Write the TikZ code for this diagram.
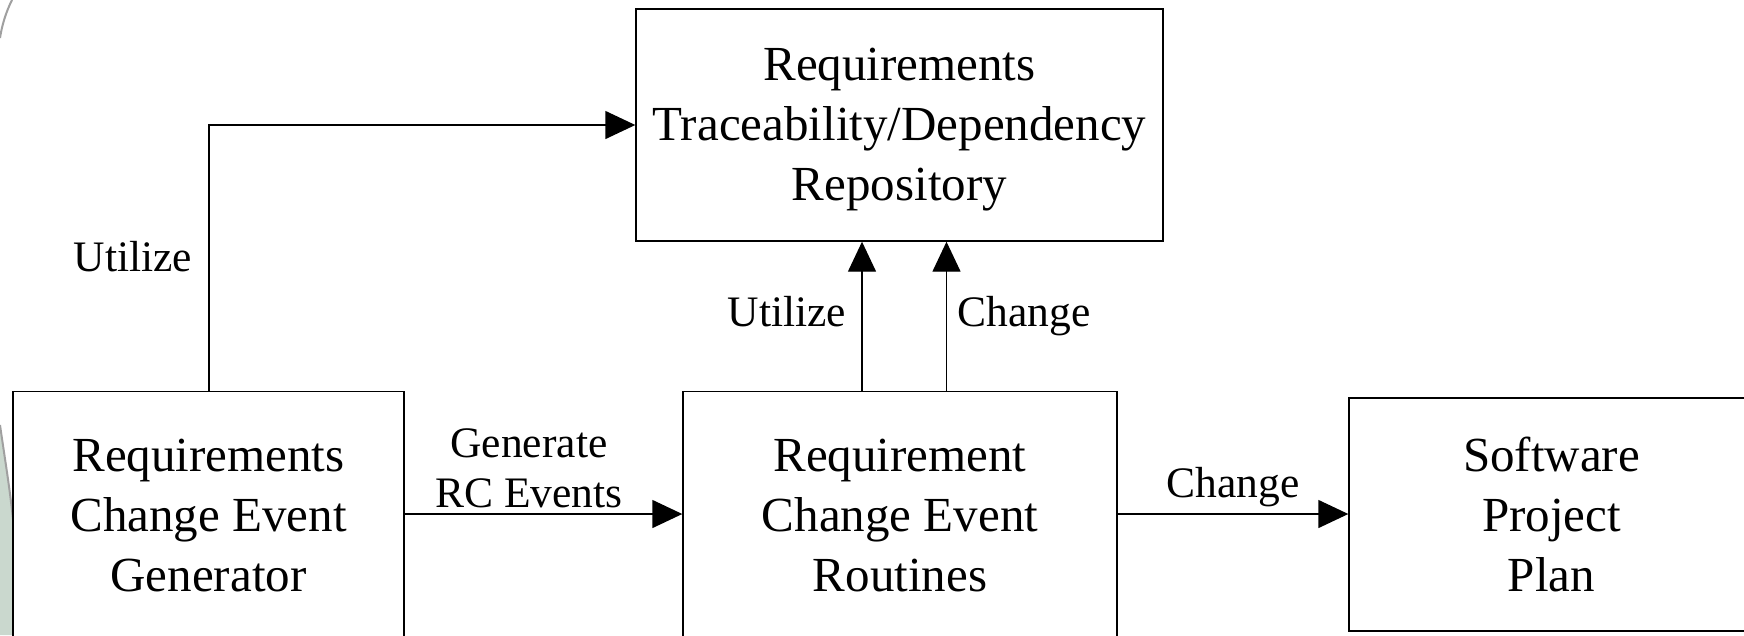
\documentclass[tikz,border=0pt]{standalone}
\usepackage{fontspec}
\setmainfont{Liberation Serif}
\usetikzlibrary{arrows.meta}
\definecolor{sagepale}{RGB}{202,216,206}
\definecolor{arcgray}{RGB}{160,160,160}
\tikzset{
  block/.style={draw=black, line width=1.4pt, fill=white, align=center, inner sep=0pt,
    font=\fontsize{49}{60}\selectfont},
  blocktext/.style={align=center, inner sep=0pt, font=\fontsize{49}{60}\selectfont},
  flow/.style={draw=black, line width=1.4pt, -{Triangle[length=30pt,width=28pt]}},
  tag/.style={font=\fontsize{43.5}{49}\selectfont, align=center, inner sep=0pt}
}
\begin{document}
\begin{tikzpicture}[x=1pt,y=-1pt]
\clip (0,0) rectangle (1744,635);
\fill[white] (0,0) rectangle (1744,635);
% faint slide decoration at the left edge
\fill[sagepale] (0,430) .. controls (6,470) and (12,505) .. (14,540) -- (14,635) -- (0,635) -- cycle;
\draw[arcgray, line width=2pt] (12,0) .. controls (6,12) and (2,25) .. (0,38);
\draw[arcgray, line width=2pt] (0,425) .. controls (5,460) and (11,495) .. (14,530);

% blocks
\node[block, minimum width=527pt, minimum height=232pt] (repo) at (899.5,125) {};
\node[blocktext] (repotext) at ([yshift=-5pt]repo.center)
  {Requirements\\Traceability/Dependency\\Repository};
\node[block, minimum width=391pt, minimum height=248pt] (gen) at (208.5,515.5)
  {Requirements\\Change Event\\Generator};
\node[block, minimum width=434pt, minimum height=248pt] (rout) at (900,515.5)
  {Requirement\\Change Event\\Routines};
\node[block, minimum width=405pt, minimum height=233pt] (plan) at (1551.5,514.5)
  {Software\\Project\\Plan};

% connectors
\draw[flow] (209,0 |- gen.north) |- (repo.west);
\draw[flow] (862,0 |- rout.north) -- (862,0 |- repo.south);
\draw[flow] (946.5,0 |- rout.north) -- (946.5,0 |- repo.south);
\draw[flow] (gen.east |- 0,514) -- (rout.west |- 0,514);
\draw[flow] (rout.east |- 0,514) -- (plan.west |- 0,514);

% connector labels
\node[tag, anchor=base] (l1) at (133,271) {Utilize};
\node[tag, anchor=base] (l2) at (787,326) {Utilize};
\node[tag, anchor=base] (l3) at (1024,326) {Change};
\node[tag, anchor=base] (l4) at (529,457) {Generate};
\node[tag, anchor=base] (l5) at (529,507) {RC Events};
\node[tag, anchor=base] (l6) at (1233,497) {Change};
\end{tikzpicture}
\end{document}
